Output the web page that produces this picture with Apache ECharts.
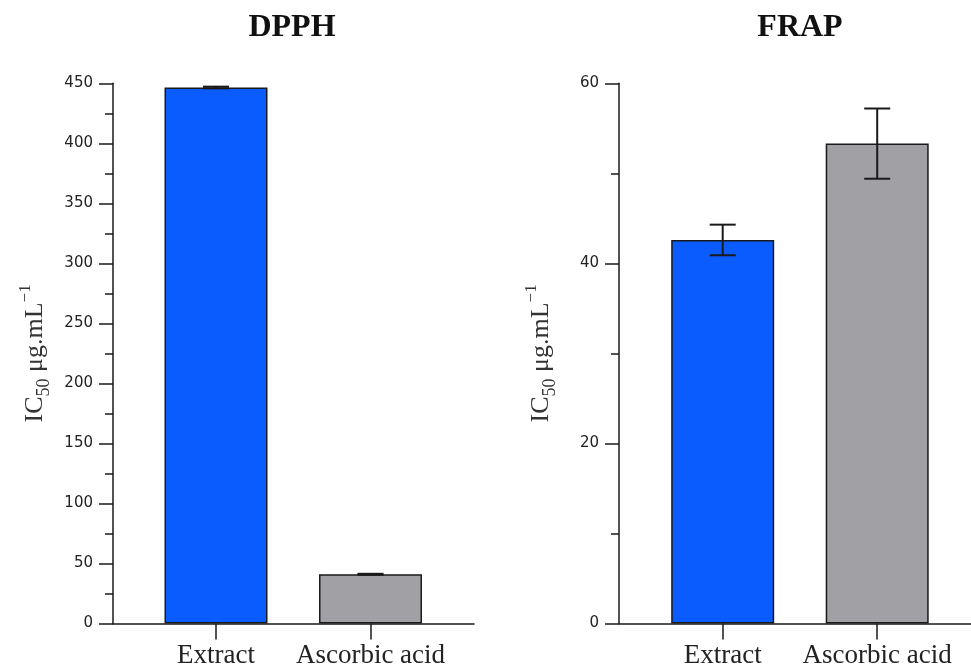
<!DOCTYPE html>
<html>
<head>
<meta charset="utf-8">
<script src="https://cdn.jsdelivr.net/npm/echarts@6/dist/echarts.min.js"></script>
<style>html,body{margin:0;padding:0;background:#fff}#c{width:971px;height:668px}</style>
</head>
<body>
<div id="c"></div>
<script>
const categories = ['Extract', 'Ascorbic acid'];
const dpphValues = [446.5, 41];
const dpphErrors = [0.7, 0.4];
const frapValues = [42.6, 53.3];
const frapErrors = [1.7, 3.9];
const dpphTicks = {min: 0, max: 450, interval: 50};
const frapTicks = {min: 0, max: 60, interval: 20};
const titles = ['DPPH', 'FRAP'];
const barColors = ['#0b5cff', '#a1a1a5'];

const SERIF = '"Liberation Serif","DejaVu Serif",serif';
const SANS = '"DejaVu Sans","Liberation Sans",sans-serif';
const AX = '#1a1a1a';

const chart = echarts.init(document.getElementById('c'), null, {renderer: 'canvas'});

const yName = '{a|IC}{s|50}{a| μg.mL}{p|−1}';
const yNameRich = {
  a: {fontFamily: SERIF, fontSize: 26, color: '#333', lineHeight: 36},
  s: {fontFamily: SERIF, fontSize: 18, color: '#333', lineHeight: 18, verticalAlign: 'bottom'},
  p: {fontFamily: SERIF, fontSize: 17, color: '#333', lineHeight: 17, verticalAlign: 'top'}
};

function valueAxisA(gi, t, labelFont) {
  return {
    type: 'value', gridIndex: gi, min: t.min, max: t.max, interval: t.interval,
    name: yName, nameLocation: 'middle', nameGap: 60, nameRotate: 90,
    nameTextStyle: {rich: yNameRich},
    axisLine: {show: true, lineStyle: {color: AX, width: 1.5}},
    axisTick: {show: true, inside: false, length: 14, lineStyle: {color: AX, width: 1.5}},
    minorTick: {show: true, splitNumber: 2, length: 8, lineStyle: {color: AX, width: 1.5}},
    splitLine: {show: false},
    axisLabel: {fontFamily: labelFont, fontSize: 15, color: '#222', margin: 20}
  };
}
function valueAxisB(gi, t) {
  return {type: 'value', gridIndex: gi, min: t.min, max: t.max, interval: t.interval, show: false};
}
function lineAxis(gi) {
  return {type: 'value', gridIndex: gi, min: 0, max: 1, axisLine: {show: true, lineStyle: {color: AX, width: 1.5}},
    axisTick: {show: false}, axisLabel: {show: false}, splitLine: {show: false}};
}
function catAxis(gi) {
  return {
    type: 'category', gridIndex: gi, data: categories, boundaryGap: true,
    axisLine: {show: false},
    axisTick: {show: true, alignWithLabel: true, length: 16, lineStyle: {color: AX, width: 1.5}},
    axisLabel: {fontFamily: SERIF, fontSize: 27, color: '#222', margin: 19, interval: 0}
  };
}
function barSeries(xi, yi, vals) {
  return {
    type: 'bar', xAxisIndex: xi, yAxisIndex: yi, barWidth: 103,
    data: vals.map((v, i) => ({value: v, itemStyle: {color: barColors[i]}})),
    itemStyle: {borderColor: '#1a1a1a', borderWidth: 1.5},
    z: 2
  };
}
function errSeries(xi, yi, vals, errs) {
  return {
    type: 'custom', xAxisIndex: xi, yAxisIndex: yi, z: 5,
    data: vals.map((v, i) => [i, v - errs[i], v + errs[i]]),
    renderItem: function (params, api) {
      const lo = api.coord([api.value(0), api.value(1)]);
      const hi = api.coord([api.value(0), api.value(2)]);
      const hw = 13;
      const st = {stroke: '#1a1a1a', lineWidth: 2, fill: null};
      return {type: 'group', children: [
        {type: 'line', shape: {x1: lo[0], y1: lo[1], x2: hi[0], y2: hi[1]}, style: st},
        {type: 'line', shape: {x1: lo[0] - hw, y1: lo[1], x2: lo[0] + hw, y2: lo[1]}, style: st},
        {type: 'line', shape: {x1: hi[0] - hw, y1: hi[1], x2: hi[0] + hw, y2: hi[1]}, style: st}
      ]};
    }
  };
}

const gTop = 83.3, gBottom = 44.5;
const option = {
  animation: false,
  backgroundColor: '#fff',
  grid: [
    {left: 113, right: 971 - 474, top: gTop, bottom: gBottom, containLabel: false, outerBoundsMode: 'none'},
    {left: 138.75, width: 309, top: gTop, bottom: gBottom, containLabel: false, outerBoundsMode: 'none'},
    {left: 619, right: -9, top: gTop, bottom: gBottom, containLabel: false, outerBoundsMode: 'none'},
    {left: 645.45, width: 309, top: gTop, bottom: gBottom, containLabel: false, outerBoundsMode: 'none'}
  ],
  xAxis: [lineAxis(0), catAxis(1), lineAxis(2), catAxis(3)],
  yAxis: [
    valueAxisA(0, dpphTicks, SANS), valueAxisB(1, dpphTicks),
    valueAxisA(2, frapTicks, SANS), valueAxisB(3, frapTicks)
  ],
  graphic: [
    {type: 'text', x: 292, y: 12, style: {text: titles[0], font: 'bold 32px ' + SERIF, fill: '#111', textAlign: 'center'}},
    {type: 'text', x: 800, y: 12, style: {text: titles[1], font: 'bold 32px ' + SERIF, fill: '#111', textAlign: 'center'}}
  ],
  series: [
    barSeries(1, 1, dpphValues), errSeries(1, 1, dpphValues, dpphErrors),
    barSeries(3, 3, frapValues), errSeries(3, 3, frapValues, frapErrors)
  ]
};
chart.setOption(option);
</script>
</body>
</html>
